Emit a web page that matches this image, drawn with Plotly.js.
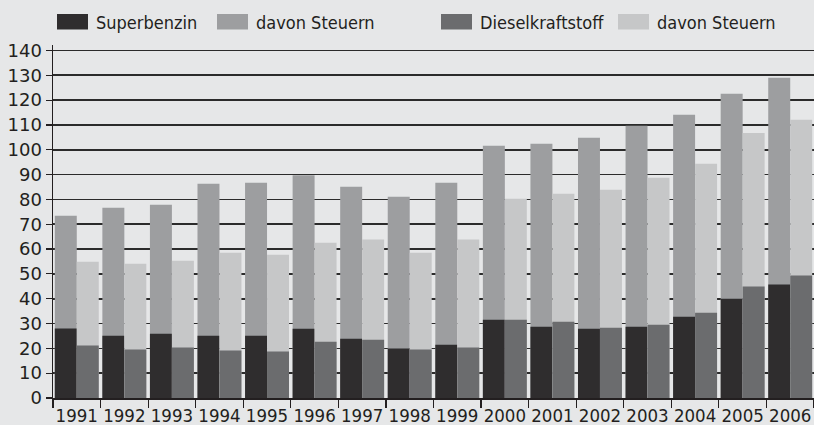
<!DOCTYPE html>
<html>
<head>
<meta charset="utf-8">
<script src="https://cdn.plot.ly/plotly-3.0.1.min.js"></script>
<style>
  html, body { margin: 0; padding: 0; background: #e6e7e8; }
  #chart { width: 814px; height: 425px; }
</style>
</head>
<body>
<div id="chart"></div>
<script>
// ---- data ----
const years = ['1991','1992','1993','1994','1995','1996','1997','1998','1999','2000','2001','2002','2003','2004','2005','2006'];
// Superbenzin: price without tax (dark) and total incl. tax (top of grey bar)
const superOhne   = [28, 25.1, 25.9, 25.1, 25.1, 27.9, 23.9, 19.9, 21.5, 31.5, 28.7, 27.9, 28.7, 32.7, 40.0, 45.7];
const superGesamt = [73.4, 76.6, 77.8, 86.3, 86.7, 89.7, 85.1, 81.1, 86.7, 101.6, 102.4, 104.8, 109.7, 114.1, 122.6, 129.0];
// Dieselkraftstoff: price without tax and total incl. tax
const dieselOhne   = [21.1, 19.5, 20.3, 19.1, 18.7, 22.7, 23.5, 19.5, 20.3, 31.5, 30.7, 28.3, 29.5, 34.3, 44.9, 49.3];
const dieselGesamt = [54.9, 54.1, 55.3, 58.5, 57.7, 62.5, 63.8, 58.5, 63.8, 80.3, 82.3, 83.9, 88.7, 94.4, 106.8, 112.1];
const legendLabels = ['Superbenzin', 'davon Steuern', 'Dieselkraftstoff', 'davon Steuern'];
const yTicks = [0,10,20,30,40,50,60,70,80,90,100,110,120,130,140];

// ---- styles ----
const C_SUPER = '#2f2d2e', C_SUPER_TAX = '#9d9ea0', C_DIESEL = '#6b6c6e', C_DIESEL_TAX = '#c6c7c8';
const BG = '#e6e7e8', INK = '#231f20';
const NARROW = '"DejaVu Sans Condensed", "Liberation Sans", sans-serif';

function bar(y, color, group, name) {
  return { type: 'bar', x: years, y: y, name: name, offsetgroup: group,
           marker: { color: color, line: { width: 0 } }, showlegend: false, hoverinfo: 'x+y' };
}
const traces = [
  bar(superGesamt, C_SUPER_TAX, 'super', legendLabels[1]),
  bar(superOhne, C_SUPER, 'super', legendLabels[0]),
  bar(dieselGesamt, C_DIESEL_TAX, 'diesel', legendLabels[3]),
  bar(dieselOhne, C_DIESEL, 'diesel', legendLabels[2])
];

// ---- custom legend (swatches + labels) ----
const W = 814, H = 425, ML = 53, MR = 0, MT = 45, MB = 27;
const PW = W - ML - MR, PH = H - MT - MB;
const px2x = p => (p - ML) / PW;
const px2y = p => (H - MB - p) / PH;
const legendColors = [C_SUPER, C_SUPER_TAX, C_DIESEL, C_DIESEL_TAX];
const swatchX = [57, 217, 441, 618];
const shapes = [], annotations = [];
legendLabels.forEach((t, i) => {
  shapes.push({ type: 'rect', xref: 'paper', yref: 'paper',
    x0: px2x(swatchX[i]), x1: px2x(swatchX[i] + 31), y0: px2y(29.5), y1: px2y(14),
    fillcolor: legendColors[i], line: { width: 0 } });
  annotations.push({ xref: 'paper', yref: 'paper', x: px2x(swatchX[i] + 37), y: px2y(22),
    xanchor: 'left', yanchor: 'middle', text: t, showarrow: false,
    font: { family: NARROW, size: 18, color: INK } });
});

const layout = {
  width: W, height: H,
  margin: { l: ML, r: MR, t: MT, b: MB, pad: 0 },
  paper_bgcolor: BG, plot_bgcolor: BG,
  barmode: 'group', bargap: 0.076, bargroupgap: 0,
  showlegend: false,
  xaxis: {
    type: 'category', tickson: 'boundaries', ticks: 'outside', ticklen: 8, tickwidth: 1.2, tickcolor: INK,
    showline: true, linecolor: INK, linewidth: 1.5, showgrid: false, zeroline: false,
    tickangle: 0, automargin: false,
    tickfont: { family: NARROW, size: 18.5, color: INK }, fixedrange: true
  },
  yaxis: {
    range: [0, 142.2], tickvals: yTicks, ticktext: yTicks.map(String),
    ticks: 'outside', ticklen: 6, tickwidth: 1.2, tickcolor: INK,
    showline: true, linecolor: INK, linewidth: 1.5, automargin: false,
    showgrid: true, gridcolor: '#2b2b2b', gridwidth: 1.6, zeroline: false,
    tickfont: { family: '"DejaVu Sans", sans-serif', size: 18, color: INK }, fixedrange: true
  },
  shapes: shapes,
  annotations: annotations
};

Plotly.newPlot('chart', traces, layout, { displayModeBar: false, staticPlot: true });
</script>
</body>
</html>
